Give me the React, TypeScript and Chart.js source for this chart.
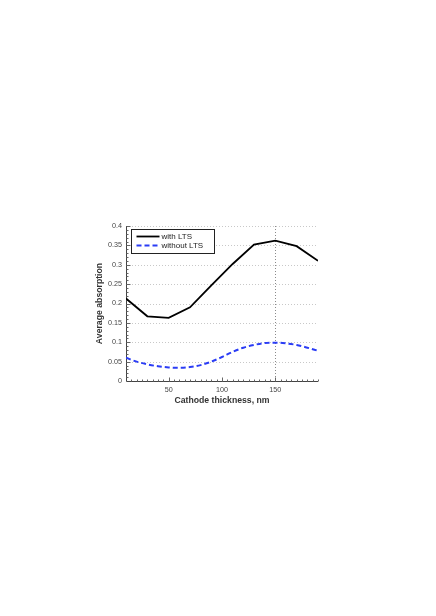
import React, { useEffect, useRef } from "react";
import { Chart, registerables } from "chart.js";

Chart.register(...registerables);

const xWith = [10, 30, 50, 70, 90, 110, 130, 150, 170, 190];
const yWith = [0.213, 0.167, 0.163, 0.19, 0.247, 0.302, 0.352, 0.362, 0.348, 0.31];
const xWithout = [10, 20, 30, 40, 50, 60, 70, 80, 90, 100, 110, 120, 130, 140, 150, 160, 170, 180, 190];
const yWithout = [0.06, 0.05, 0.043, 0.038, 0.035, 0.034, 0.036, 0.041, 0.05, 0.062, 0.075, 0.086, 0.093, 0.098, 0.099, 0.097, 0.093, 0.086, 0.078];
const xTicks = [50, 100, 150];
const yTicks = [0, 0.05, 0.1, 0.15, 0.2, 0.25, 0.3, 0.35, 0.4];
const seriesNames = ["with LTS", "without LTS"];
const xTitle = "Cathode thickness, nm";
const yTitle = "Average absorption";

const FONT = "'Liberation Sans', Arial, sans-serif";

const decorPlugin = {
  id: "decor",
  beforeDatasetsDraw(chart: any) {
    const { ctx, chartArea: a, scales } = chart;
    const xs = scales.x;
    const ys = scales.y;
    ctx.save();
    ctx.strokeStyle = "#c8c8c8";
    ctx.lineWidth = 1;
    ctx.setLineDash([1, 2]);
    yTicks.forEach((v) => {
      if (v === 0) return;
      const y = Math.round(ys.getPixelForValue(v)) + 0.5;
      ctx.beginPath();
      ctx.moveTo(a.left, y);
      ctx.lineTo(a.right, y);
      ctx.stroke();
    });
    ctx.strokeStyle = "#8a8a8a";
    const xv = Math.round(xs.getPixelForValue(150)) + 0.5;
    ctx.beginPath();
    ctx.moveTo(xv, a.top);
    ctx.lineTo(xv, a.bottom);
    ctx.stroke();
    ctx.setLineDash([]);
    ctx.strokeStyle = "#444";
    ctx.lineWidth = 1;
    const left = Math.round(a.left) + 0.5;
    const bottom = Math.round(a.bottom) + 0.5;
    ctx.beginPath();
    ctx.moveTo(left, a.top);
    ctx.lineTo(left, bottom);
    ctx.lineTo(a.right, bottom);
    ctx.stroke();
    ctx.strokeStyle = "#666";
    for (let v = 15; v <= 190; v += 5) {
      const x = Math.round(xs.getPixelForValue(v)) + 0.5;
      const len = v % 50 === 0 ? 4 : 2;
      ctx.beginPath();
      ctx.moveTo(x, bottom);
      ctx.lineTo(x, bottom - len);
      ctx.stroke();
    }
    for (let i = 1; i <= 40; i++) {
      const v = i / 100;
      const y = Math.round(ys.getPixelForValue(v)) + 0.5;
      const len = i % 5 === 0 ? 4 : 2;
      ctx.beginPath();
      ctx.moveTo(left, y);
      ctx.lineTo(left + len, y);
      ctx.stroke();
    }
    ctx.restore();
  },
  afterDatasetsDraw(chart: any) {
    const { ctx, chartArea: a } = chart;
    ctx.save();
    const bx = a.left + 5.5;
    const by = a.top + 3.5;
    const bw = 83;
    const bh = 24;
    ctx.fillStyle = "#fff";
    ctx.fillRect(bx, by, bw, bh);
    ctx.strokeStyle = "#222";
    ctx.lineWidth = 1;
    ctx.strokeRect(bx, by, bw, bh);
    ctx.font = `8px ${FONT}`;
    ctx.fillStyle = "#222";
    ctx.textBaseline = "middle";
    const rows = [
      { y: by + 7, color: "#000", dash: [] as number[], w: 1.8 },
      { y: by + 16, color: "#2a3cf5", dash: [5, 3], w: 2 },
    ];
    rows.forEach((r, i) => {
      ctx.strokeStyle = r.color;
      ctx.lineWidth = r.w;
      ctx.setLineDash(r.dash);
      ctx.beginPath();
      ctx.moveTo(bx + 5, r.y);
      ctx.lineTo(bx + 28, r.y);
      ctx.stroke();
      ctx.setLineDash([]);
      ctx.fillText(seriesNames[i], bx + 30, r.y);
    });
    ctx.restore();
  },
};

export default function App() {
  const ref = useRef<HTMLCanvasElement | null>(null);
  useEffect(() => {
    if (!ref.current) return;
    const chart = new Chart(ref.current, {
      type: "line",
      data: {
        datasets: [
          {
            label: seriesNames[0],
            data: xWith.map((x, i) => ({ x, y: yWith[i] })),
            borderColor: "#000",
            borderWidth: 1.8,
            pointRadius: 0,
            tension: 0,
          },
          {
            label: seriesNames[1],
            data: xWithout.map((x, i) => ({ x, y: yWithout[i] })),
            borderColor: "#2a3cf5",
            borderWidth: 2,
            borderDash: [5, 3],
            pointRadius: 0,
            tension: 0.4,
            cubicInterpolationMode: "monotone",
          },
        ],
      },
      options: {
        animation: false,
        responsive: false,
        layout: { padding: { left: 86, right: 110, top: 218, bottom: 202 } },
        plugins: { legend: { display: false }, tooltip: { enabled: false } },
        scales: {
          x: {
            type: "linear",
            min: 10,
            max: 190,
            afterBuildTicks: (s: any) => {
              s.ticks = xTicks.map((v) => ({ value: v }));
            },
            afterFit: (s: any) => {
              s.height = 25;
            },
            grid: { display: false, drawTicks: false },
            border: { display: false },
            ticks: { font: { size: 7.2, family: FONT }, color: "#444", padding: 5, maxRotation: 0 },
            title: {
              display: true,
              text: xTitle,
              font: { size: 8.7, weight: "bold", family: FONT },
              color: "#333",
              padding: { top: 0, bottom: 0 },
            },
          },
          y: {
            type: "linear",
            min: 0,
            max: 0.4,
            afterBuildTicks: (s: any) => {
              s.ticks = yTicks.map((v) => ({ value: v }));
            },
            afterFit: (s: any) => {
              s.width = 32;
            },
            grid: { display: false, drawTicks: false },
            border: { display: false },
            ticks: {
              font: { size: 7.2, family: FONT },
              color: "#444",
              padding: 4,
              callback: (v: any) => String(Number(v)),
            },
            title: {
              display: true,
              text: yTitle,
              font: { size: 8.7, weight: "bold", family: FONT },
              color: "#333",
              padding: { top: 0, bottom: 0 },
            },
          },
        },
      },
      plugins: [decorPlugin],
    });
    return () => chart.destroy();
  }, []);
  return (
    <div style={{ width: 420, height: 600 }}>
      <canvas ref={ref} width={420} height={600} style={{ display: "block" }} />
    </div>
  );
}
